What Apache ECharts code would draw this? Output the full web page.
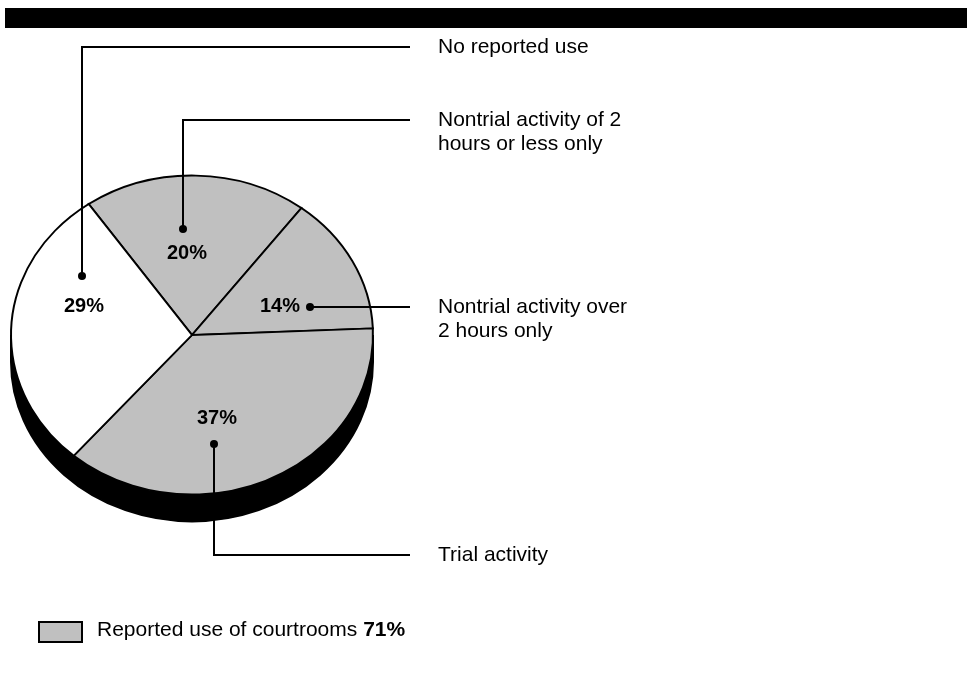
<!DOCTYPE html>
<html>
<head>
<meta charset="utf-8">
<style>
  html, body { margin: 0; padding: 0; background: #fff; }
  #chart { width: 967px; height: 673px; }
</style>
<script src="https://cdn.jsdelivr.net/npm/echarts@6/dist/echarts.min.js"></script>
</head>
<body>
<div id="chart"></div>
<script>
// Courtroom use categories, in clockwise order from the top-left slice
const categories = [
  'Nontrial activity of 2\nhours or less only',
  'Nontrial activity over\n2 hours only',
  'Trial activity',
  'No reported use'
];
const shares = [20, 14, 37, 29];              // percent of courtrooms
const reportedUse = [true, true, true, false]; // slices counted as "reported use"
const legendLabel = 'Reported use of courtrooms';

// Pie geometry (tilted disc)
const PIE = { cx: 192, cy: 335, rx: 181, ry: 159.5, depth: 27, startDeg: 124.8 };
const FONT = '"Liberation Sans", Arial, Helvetica, sans-serif';
const GREY = '#c0c0c0';
const TEXT_X = 438, LEADER_END_X = 410;

// Callout layout per slice: percent label, anchor dot, leader elbow
const calloutLayout = [
  { pct: [187, 253], dot: [183, 229], elbow: [183, 120] },
  { pct: [280, 306], dot: [310, 307], elbow: null },
  { pct: [217, 418], dot: [214, 444], elbow: [214, 555] },
  { pct: [84, 306],  dot: [82, 276],  elbow: [82, 47] }
];

const total = shares.reduce((a, b) => a + b, 0);
const reportedTotal = shares.reduce((s, v, i) => s + (reportedUse[i] ? v : 0), 0);

// Screen angles (radians, clockwise from +x) for each slice
const sliceAngles = [];
(function () {
  let a = -PIE.startDeg * Math.PI / 180;
  shares.forEach(v => {
    const sweep = v / total * Math.PI * 2;
    sliceAngles.push([a, a + sweep]);
    a += sweep;
  });
})();

const k = PIE.ry / PIE.rx;

function renderBase() {
  return {
    type: 'group',
    children: [
      {
        type: 'rect',
        shape: { x: PIE.cx - PIE.rx - 1, y: PIE.cy, width: PIE.rx * 2 + 2, height: PIE.depth },
        style: { fill: '#000' }
      },
      {
        type: 'group', x: PIE.cx, y: PIE.cy + PIE.depth, scaleY: k,
        children: [{
          type: 'circle',
          shape: { cx: 0, cy: 0, r: PIE.rx },
          style: { fill: '#000', stroke: '#000', lineWidth: 2, strokeNoScale: true }
        }]
      }
    ]
  };
}

function renderSlice(params, api) {
  const i = params.dataIndex;
  const value = api.value(0);
  const [a0, a1] = sliceAngles[i];
  const lay = calloutLayout[i];
  const lineY = lay.elbow ? lay.elbow[1] : lay.dot[1];
  const pts = lay.elbow ? [lay.dot, lay.elbow, [LEADER_END_X, lineY]] : [lay.dot, [LEADER_END_X, lineY]];
  return {
    type: 'group',
    children: [
      {
        type: 'group', x: PIE.cx, y: PIE.cy, scaleY: k,
        children: [{
          type: 'sector',
          shape: { cx: 0, cy: 0, r: PIE.rx, r0: 0, startAngle: a0, endAngle: a1, clockwise: true },
          style: { fill: reportedUse[i] ? GREY : '#fff', stroke: '#000', lineWidth: 2, strokeNoScale: true }
        }]
      },
      {
        type: 'polyline', z2: 5,
        shape: { points: pts },
        style: { stroke: '#000', lineWidth: 2, fill: null }
      },
      {
        type: 'circle', z2: 6,
        shape: { cx: lay.dot[0], cy: lay.dot[1], r: 4 },
        style: { fill: '#000' }
      },
      {
        type: 'text', z2: 7,
        style: {
          text: value + '%', x: lay.pct[0], y: lay.pct[1],
          align: 'center', verticalAlign: 'middle',
          font: 'bold 20px ' + FONT, fill: '#000'
        }
      },
      {
        type: 'text', z2: 7,
        style: {
          text: categories[i], x: TEXT_X, y: lineY - 12,
          align: 'left', verticalAlign: 'top', lineHeight: 24,
          font: '21px ' + FONT, fill: '#000'
        }
      }
    ]
  };
}

const chart = echarts.init(document.getElementById('chart'), null, { renderer: 'canvas' });
chart.setOption({
  animation: false,
  backgroundColor: '#fff',
  graphic: [
    { type: 'rect', left: 5, top: 8, shape: { width: 962, height: 20 }, style: { fill: '#000' } },
    {
      type: 'rect', left: 38, top: 621,
      shape: { width: 43, height: 20 },
      style: { fill: GREY, stroke: '#000', lineWidth: 2 }
    },
    {
      type: 'text', left: 97, top: 620,
      style: {
        text: '{n|' + legendLabel + ' }{b|' + reportedTotal + '%}',
        rich: {
          n: { font: '21px ' + FONT, fill: '#000' },
          b: { font: 'bold 21px ' + FONT, fill: '#000' }
        }
      }
    }
  ],
  series: [
    {
      type: 'custom', coordinateSystem: 'none', silent: true, z: 1,
      data: [0],
      renderItem: renderBase
    },
    {
      type: 'custom', coordinateSystem: 'none', silent: true, z: 2,
      data: shares,
      renderItem: renderSlice
    }
  ]
});
</script>
</body>
</html>
